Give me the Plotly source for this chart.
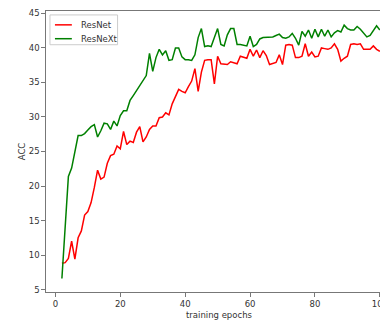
import plotly.graph_objects as go

epochs = list(range(2, 101))

resnet = [8.8, 8.9, 9.5, 12.0, 9.4, 12.5, 13.5, 15.8, 16.3, 17.6,
          19.8, 22.3, 21.0, 21.3, 23.3, 24.4, 24.6, 25.8, 25.4, 27.9,
          26.0, 26.5, 26.3, 27.8, 28.6, 26.4, 27.1, 28.2, 28.7, 28.7,
          29.9, 30.0, 30.6, 30.3, 31.9, 33.1, 34.0, 33.7, 33.5, 34.4,
          35.2, 37.0, 33.7, 36.5, 38.2, 38.3, 38.3, 34.8, 38.8, 37.7,
          37.6, 37.6, 38.0, 37.9, 37.7, 38.8, 38.6, 38.5, 39.8, 38.8,
          39.7, 38.6, 39.6, 38.9, 37.6, 37.7, 37.9, 39.0, 37.6, 40.4,
          40.5, 40.4, 38.6, 38.6, 38.8, 40.6, 38.8, 39.4, 38.7, 38.8,
          40.0, 39.9, 39.8, 40.0, 40.6, 39.8, 38.1, 38.5, 38.8, 40.5,
          40.6, 40.5, 40.6, 39.8, 39.8, 39.8, 40.3, 39.8, 39.5]

resnext = [6.6, 14.5, 21.4, 22.6, 25.0, 27.3, 27.3, 27.6, 28.1, 28.6,
           28.9, 27.1, 28.0, 29.1, 29.0, 28.2, 29.4, 28.7, 30.2, 30.9,
           30.9, 32.4, 33.1, 33.8, 34.6, 35.3, 36.0, 39.2, 36.6, 38.6,
           39.8, 39.0, 39.6, 38.2, 38.3, 40.0, 40.0, 38.7, 38.3, 38.3,
           38.2, 39.0, 41.5, 42.8, 40.2, 40.3, 40.2, 41.5, 42.8, 40.5,
           40.3, 41.9, 42.8, 42.8, 40.5, 40.5, 40.4, 40.3, 41.7, 40.2,
           40.5, 41.3, 41.5, 41.5, 41.6, 41.6, 41.8, 42.0, 41.5, 41.4,
           41.6, 42.1, 41.4, 40.4, 42.4, 41.7, 42.6, 41.4, 42.7, 41.6,
           42.7, 41.7, 42.6, 41.6, 42.2, 42.5, 42.3, 43.3, 42.8, 42.6,
           42.6, 43.1, 42.7, 42.1, 41.6, 41.8, 42.6, 43.2, 42.6]

series_names = ["ResNet", "ResNeXt"]
series_colors = ["#ff0000", "#008000"]

x_ticks = [0, 20, 40, 60, 80, 100]
y_ticks = [5, 10, 15, 20, 25, 30, 35, 40, 45]

FS = 8.5
TXT = "#333333"
AX = "#777777"

fig = go.Figure()
for name, vals, col in zip(series_names, [resnet, resnext], series_colors):
    fig.add_trace(go.Scatter(x=epochs, y=vals, mode="lines", name=name,
                             line=dict(color=col, width=1.5),
                             showlegend=False))

axis_common = dict(showgrid=False, zeroline=False, showline=True,
                   linecolor=AX, linewidth=1.2, ticks="outside",
                   ticklen=3.5, tickcolor=AX, tickwidth=1,
                   ticklabeloverflow="allow",
                   tickfont=dict(family="DejaVu Sans", size=FS, color=TXT))

# legend drawn in paper coordinates (matplotlib-style compact box)
shapes = [dict(type="rect", xref="paper", yref="paper",
               x0=0.0117, x1=0.2105, y0=0.880, y1=0.986,
               line=dict(color="#cccccc", width=1),
               fillcolor="rgba(255,255,255,0.8)", layer="above")]
annotations = []
for i, (name, col) in enumerate(zip(series_names, series_colors)):
    yy = 0.9507 - i * 0.0493
    shapes.append(dict(type="line", xref="paper", yref="paper",
                       x0=0.0263, x1=0.0760, y0=yy, y1=yy,
                       line=dict(color=col, width=1.5), layer="above"))
    annotations.append(dict(text=name, xref="paper", yref="paper",
                            x=0.0965, y=yy, xanchor="left", yanchor="middle",
                            showarrow=False,
                            font=dict(family="DejaVu Sans", size=FS, color=TXT)))

annotations.append(dict(text="training epochs", xref="paper", yref="paper",
                        x=0.51, y=-0.081, xanchor="center", yanchor="middle",
                        showarrow=False,
                        font=dict(family="DejaVu Sans", size=FS, color=TXT)))

fig.update_layout(
    width=380, height=316,
    margin=dict(l=38, r=0, t=0, b=32),
    paper_bgcolor="white", plot_bgcolor="white",
    font=dict(family="DejaVu Sans", size=FS, color=TXT),
    showlegend=False,
    xaxis=dict(range=[-2.9, 101.9], tickvals=x_ticks, mirror=True,
               **axis_common),
    yaxis=dict(range=[4.65, 45.35], tickvals=y_ticks,
               title=dict(text="ACC", standoff=1,
                          font=dict(size=FS, color=TXT)),
               **axis_common),
    shapes=shapes,
    annotations=annotations,
)

fig.write_html("out.html")
